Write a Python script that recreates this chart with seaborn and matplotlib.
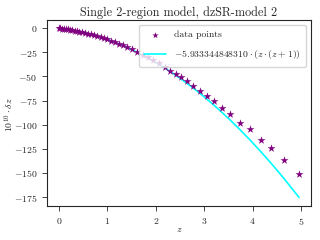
import numpy as np
import pandas as pd
import seaborn as sns
import matplotlib
matplotlib.use("Agg")
import matplotlib.pyplot as plt

# values
z_vals = [0.0, 0.03, 0.06, 0.10, 0.14, 0.18, 0.22, 0.27, 0.32, 0.37,
          0.42, 0.48, 0.54, 0.60, 0.66, 0.72, 0.79, 0.86, 0.93, 1.00,
          1.08, 1.16, 1.24, 1.32, 1.41, 1.51, 1.62, 1.73, 1.84, 1.95,
          2.06, 2.19, 2.30, 2.41, 2.52, 2.64, 2.76, 2.91, 3.05, 3.21,
          3.37, 3.54, 3.73, 3.94, 4.17, 4.39, 4.65, 4.96]
dz_vals = [0.0, -0.18, -0.38, -0.65, -0.94, -1.25, -1.58, -2.01, -2.48, -2.98,
           -3.50, -4.16, -4.87, -5.63, -6.42, -7.25, -8.27, -9.35, -10.49, -11.68,
           -13.1, -14.6, -16.2, -17.8, -19.8, -22.0, -24.6, -27.4, -30.3, -33.3,
           -36.5, -40.4, -43.9, -47.4, -51.0, -55.0, -59.6, -64.7, -69.9, -75.7,
           -82.3, -88.5, -98.0, -104.7, -115.7, -124.0, -137.0, -151.5]
coef = -5.933344848310
fit_label = r"$-5.933344848310 \cdot (z \cdot (z+1))$"

df = pd.DataFrame({"z": z_vals, "dz": dz_vals})
df["fit"] = coef * (df["z"] * (df["z"] + 1))

sns.set_style("ticks")
plt.rcParams["font.family"] = "serif"
plt.rcParams["font.serif"] = ["cmr10", "DejaVu Serif"]
plt.rcParams["mathtext.fontset"] = "cm"
plt.rcParams["axes.formatter.use_mathtext"] = True
plt.rcParams["axes.unicode_minus"] = True

fig, ax = plt.subplots(figsize=(3.2, 2.4), dpi=100)
sns.scatterplot(data=df, x="z", y="dz", marker="*", color="purple", s=36,
                linewidth=0, label="data points", ax=ax, zorder=3)
sns.lineplot(data=df, x="z", y="fit", color="cyan", lw=1.2, label=fit_label, ax=ax)

ax.set_title("Single 2-region model, dzSR-model 2", fontsize=8.8, pad=3)
ax.set_xlabel(r"$z$", fontsize=7, labelpad=-1)
ax.set_ylabel(r"$10^{10} \cdot \delta z$", fontsize=7)
ax.yaxis.set_label_coords(-0.118, 0.49)
ax.set_yticks(np.arange(-175, 1, 25))
ax.tick_params(labelsize=7, length=3.5, width=0.6)
for sp in ax.spines.values():
    sp.set_linewidth(0.8)
ax.legend(loc="upper right", fontsize=7, frameon=True, handlelength=2.2,
          borderpad=0.6, labelspacing=0.9, markerscale=0.8)

fig.subplots_adjust(left=0.147, right=0.972, top=0.918, bottom=0.142)
fig.savefig("out.png", dpi=100)
